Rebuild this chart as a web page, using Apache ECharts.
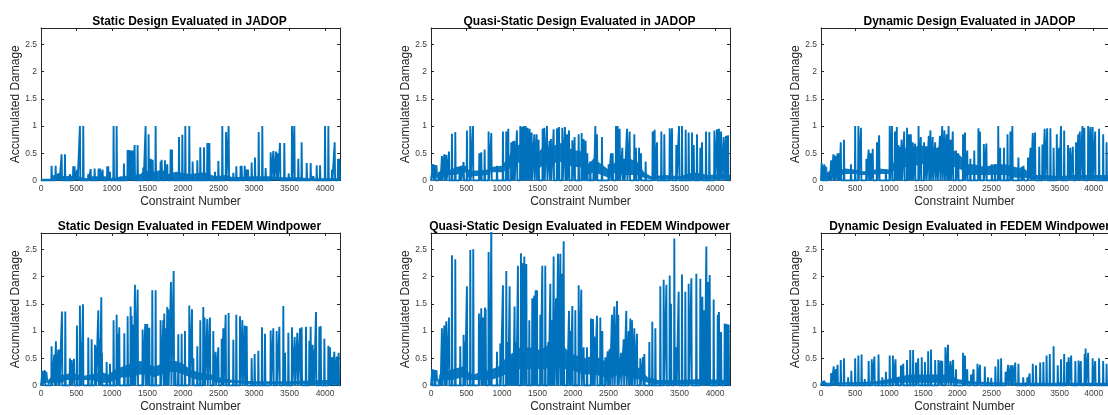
<!DOCTYPE html>
<html><head><meta charset="utf-8">
<script src="https://cdn.jsdelivr.net/npm/echarts@6/dist/echarts.min.js"></script>
<style>html,body{margin:0;padding:0;background:#fff}#c{width:1108px;height:415px}</style>
</head><body><div id="c"></div>
<script>
// ---- titles / axes ----
const titles = [
  'Static Design Evaluated in JADOP',
  'Quasi-Static Design Evaluated in JADOP',
  'Dynamic Design Evaluated in JADOP',
  'Static Design Evaluated in FEDEM Windpower',
  'Quasi-Static Design Evaluated in FEDEM Windpower',
  'Dynamic Design Evaluated in FEDEM Windpower'
];
const xName = 'Constraint Number';
const yName = 'Accumulated Damage';
const xMin = 0, xMax = 4210, xStep = 500;
const yMin = 0, yMax = 2.8, yStep = 0.5;

// ---- data: spikes [constraint, damage] and dense background envelope [constraint, low, high] ----
const staticJadopSpikes = [[150,0.27],[207,0.27],[244,0.13],[258,0.13],[291,0.48],[338,0.48],[408,0.12],[455,0.26],[474,0.26],[512,0.2],[549,1.0],[596,1.0],[667,0.12],[700,0.21],[756,0.22],[812,0.22],[831,0.22],[868,0.2],[934,0.26],[948,0.26],[972,0.16],[1023,1.0],[1066,1.0],[1120,0.07],[1169,0.31],[1221,0.56],[1244,0.56],[1272,0.55],[1286,0.55],[1319,0.65],[1361,0.65],[1441,0.24],[1474,1.0],[1516,0.85],[1545,0.4],[1573,0.38],[1615,1.0],[1685,0.35],[1700,0.38],[1746,0.37],[1779,0.3],[1826,0.57],[1845,0.57],[1944,0.8],[1991,0.84],[2033,1.0],[2089,1.0],[2136,0.35],[2202,0.37],[2244,0.61],[2296,0.61],[2343,0.69],[2371,0.69],[2451,0.16],[2498,0.36],[2554,1.0],[2606,0.89],[2643,1.0],[2709,0.14],[2751,0.26],[2812,0.27],[2826,0.27],[2869,0.27],[2897,0.2],[2915,0.2],[2967,0.33],[3014,0.42],[3066,0.89],[3117,1.0],[3164,0.23],[3235,0.52],[3272,0.54],[3310,0.53],[3329,0.5],[3366,0.69],[3427,0.69],[3488,0.13],[3535,1.0],[3568,1.0],[3624,0.4],[3671,0.7],[3742,0.32],[3798,0.32],[3836,0.08],[3883,0.28],[3930,0.28],[4000,1.0],[4047,1.0],[4099,0.2],[4136,0.7],[4183,0.4],[4202,0.4]];
const staticJadopBand = [[0,0,0.03],[140,0,0.03],[150,0,0.1],[350,0,0.08],[500,0,0.1],[560,0,0.06],[640,0,0.04],[700,0,0.08],[900,0,0.08],[1000,0,0.04],[1150,0,0.08],[1400,0,0.12],[1450,0,0.18],[1600,0,0.16],[1700,0,0.2],[1800,0,0.12],[1900,0,0.16],[2100,0,0.12],[2300,0,0.15],[2450,0,0.08],[2600,0,0.1],[2700,0,0.06],[3000,0,0.08],[3200,0,0.08],[3400,0,0.06],[3600,0,0.06],[3800,0,0.04],[4000,0,0.04],[4210,0,0.04]];

const quasiJadopSpikes = [[30,0.3],[60,0.28],[110,0.15],[130,0.17],[155,0.45],[188,0.48],[216,0.47],[254,0.53],[296,0.86],[343,0.89],[404,0.25],[423,0.27],[460,0.34],[507,0.92],[554,1.0],[592,1.0],[681,0.5],[709,0.52],[756,0.57],[812,0.9],[850,0.87],[930,0.27],[1014,0.9],[1061,0.9],[1089,0.95],[1131,0.7],[1155,0.72],[1174,0.73],[1211,0.92],[1258,1.0],[1282,0.98],[1305,1.0],[1333,1.0],[1361,0.97],[1390,0.95],[1418,0.88],[1455,0.85],[1488,0.85],[1516,0.75],[1573,0.95],[1596,0.97],[1634,1.0],[1671,0.73],[1690,0.76],[1728,0.94],[1775,0.96],[1803,0.98],[1850,0.97],[1887,0.98],[1915,0.85],[1944,0.92],[1991,0.74],[2023,0.8],[2080,0.85],[2122,0.87],[2150,0.76],[2178,0.73],[2202,0.5],[2244,0.35],[2291,0.4],[2315,1.0],[2338,0.85],[2408,0.8],[2502,0.3],[2535,0.5],[2559,0.5],[2606,1.0],[2629,1.0],[2657,0.95],[2695,0.6],[2723,0.4],[2761,0.95],[2798,0.9],[2864,0.85],[2887,0.6],[2930,0.6],[2958,0.5],[3023,0.35],[3122,0.9],[3150,0.93],[3183,0.7],[3244,0.9],[3286,0.85],[3362,0.96],[3394,0.96],[3455,0.65],[3493,1.0],[3535,1.0],[3587,0.93],[3629,0.88],[3676,0.88],[3700,0.65],[3746,0.85],[3793,0.6],[3817,0.7],[3873,0.9],[3920,0.89],[3991,0.92],[4028,0.94],[4056,0.95],[4085,0.9],[4122,0.8],[4155,0.82],[4183,0.83]];
const quasiJadopBand = [[0,0.05,0.3],[90,0.05,0.28],[100,0,0.08],[140,0.1,0.18],[300,0.1,0.2],[340,0.1,0.25],[500,0.15,0.27],[520,0.05,0.2],[600,0.08,0.18],[800,0.1,0.2],[840,0.15,0.25],[1000,0.15,0.27],[1100,0.2,0.45],[1150,0.3,0.6],[1300,0.35,0.7],[1450,0.3,0.7],[1500,0.2,0.5],[1600,0.3,0.65],[1700,0.3,0.6],[1800,0.35,0.7],[1900,0.3,0.65],[2000,0.25,0.55],[2100,0.25,0.55],[2200,0.1,0.3],[2300,0.15,0.4],[2400,0.1,0.3],[2500,0.05,0.2],[2600,0.15,0.35],[2700,0.1,0.35],[2800,0.1,0.4],[2900,0.1,0.35],[3000,0.05,0.15],[3100,0.02,0.08],[3300,0.02,0.1],[3500,0.02,0.08],[3700,0.02,0.15],[3900,0.02,0.1],[4100,0.02,0.12],[4210,0.02,0.1]];

const dynJadopSpikes = [[10,0.32],[50,0.3],[103,0.15],[127,0.17],[150,0.37],[183,0.48],[211,0.46],[244,0.5],[268,0.5],[291,0.7],[338,0.75],[441,0.3],[502,1.0],[549,1.0],[587,0.97],[667,0.4],[700,0.57],[728,0.5],[760,0.58],[822,0.7],[854,0.83],[953,0.2],[1009,1.0],[1042,1.0],[1085,0.9],[1113,0.98],[1136,0.65],[1160,0.62],[1183,0.75],[1221,0.9],[1263,0.97],[1291,0.85],[1319,0.85],[1347,0.7],[1380,0.68],[1432,1.0],[1465,0.8],[1512,0.7],[1545,0.63],[1582,0.82],[1606,0.92],[1639,0.8],[1676,0.7],[1709,0.58],[1746,0.82],[1779,1.0],[1812,0.92],[1845,0.85],[1873,1.0],[1901,0.75],[1934,0.9],[1981,0.55],[2014,0.5],[2085,0.85],[2113,0.88],[2146,0.55],[2192,0.4],[2249,0.55],[2310,0.96],[2333,0.9],[2390,0.67],[2427,0.68],[2507,0.3],[2554,0.3],[2601,1.0],[2629,0.6],[2685,0.6],[2737,0.85],[2779,0.9],[2808,1.0],[2897,0.42],[2944,0.25],[2972,0.27],[3038,0.42],[3075,0.6],[3108,0.87],[3141,0.88],[3202,0.62],[3249,0.66],[3282,0.95],[3319,0.96],[3366,0.96],[3413,0.6],[3460,0.85],[3493,0.6],[3521,1.0],[3568,0.92],[3624,0.65],[3657,0.6],[3695,0.62],[3742,0.7],[3775,0.85],[3798,0.9],[3836,1.0],[3864,0.97],[3920,1.0],[3953,0.98],[3986,0.98],[4023,0.9],[4080,0.95],[4140,0.85],[4190,0.7]];
const dynJadopBand = [[0,0.02,0.3],[90,0.02,0.25],[100,0,0.08],[130,0.1,0.17],[300,0.1,0.2],[350,0.12,0.22],[500,0.12,0.2],[600,0.1,0.17],[700,0.1,0.17],[850,0.12,0.22],[1000,0.12,0.2],[1100,0.2,0.4],[1200,0.25,0.6],[1350,0.25,0.6],[1450,0.3,0.65],[1600,0.3,0.6],[1700,0.25,0.6],[1800,0.3,0.65],[1950,0.25,0.55],[2050,0.2,0.45],[2150,0.1,0.3],[2250,0.1,0.3],[2400,0.1,0.25],[2550,0.1,0.3],[2700,0.1,0.3],[2850,0.05,0.25],[3000,0.05,0.2],[3100,0.02,0.1],[3300,0.02,0.1],[3500,0.02,0.08],[3700,0.02,0.1],[3900,0.02,0.1],[4210,0.02,0.1]];

const staticFedemSpikes = [[20,0.25],[55,0.28],[150,0.72],[188,0.57],[211,0.81],[244,0.66],[258,0.66],[296,1.36],[343,1.36],[408,0.5],[432,0.47],[465,0.49],[507,1.1],[549,1.47],[563,0.8],[592,1.49],[667,0.88],[714,0.85],[761,0.75],[770,0.7],[808,1.38],[826,0.85],[850,1.62],[859,0.6],[925,0.43],[972,0.4],[1023,1.2],[1066,1.3],[1080,0.95],[1103,1.07],[1174,0.96],[1221,1.27],[1263,1.45],[1277,1.28],[1300,1.12],[1324,1.85],[1362,1.76],[1432,1.03],[1469,1.13],[1498,1.13],[1526,1.06],[1568,1.75],[1615,1.75],[1685,1.2],[1723,1.2],[1737,1.32],[1760,1.05],[1779,1.44],[1793,1.4],[1831,1.9],[1869,2.1],[1892,0.4],[1934,0.94],[1981,0.95],[2028,1.0],[2089,1.47],[2127,1.4],[2146,0.5],[2202,0.72],[2244,1.2],[2286,1.44],[2305,1.25],[2343,1.22],[2380,1.25],[2427,1.0],[2460,0.62],[2498,0.7],[2545,0.86],[2568,1.05],[2601,1.3],[2643,1.33],[2709,0.84],[2751,1.3],[2803,1.27],[2836,1.2],[2869,1.1],[2897,1.09],[2967,0.5],[3009,0.58],[3061,0.64],[3113,1.07],[3155,0.95],[3235,1.01],[3272,1.05],[3319,1.0],[3357,1.08],[3413,1.46],[3437,0.6],[3484,0.97],[3535,1.07],[3573,0.89],[3610,0.97],[3648,1.05],[3671,1.07],[3732,1.08],[3779,0.82],[3798,1.08],[3826,0.75],[3840,0.65],[3873,1.35],[3920,1.08],[3939,1.09],[3991,0.86],[4047,0.73],[4070,0.7],[4099,0.52],[4131,0.62],[4164,0.53],[4192,0.6]];
const staticFedemBand = [[0,0.05,0.28],[90,0.05,0.25],[100,0,0.1],[140,0.05,0.15],[300,0.05,0.2],[350,0.1,0.2],[450,0.1,0.25],[500,0.1,0.2],[600,0.1,0.18],[700,0.1,0.2],[850,0.05,0.25],[950,0.05,0.2],[1050,0.1,0.3],[1150,0.15,0.35],[1250,0.15,0.4],[1400,0.2,0.45],[1500,0.2,0.4],[1600,0.15,0.35],[1700,0.2,0.4],[1800,0.25,0.45],[1900,0.25,0.45],[2000,0.2,0.4],[2100,0.15,0.3],[2200,0.1,0.25],[2400,0.1,0.2],[2500,0.05,0.15],[2700,0.05,0.1],[3000,0.02,0.08],[3500,0.02,0.08],[4000,0.02,0.1],[4210,0.02,0.1]];

const quasiFedemSpikes = [[20,0.3],[60,0.28],[131,0.2],[155,1.05],[188,1.1],[216,1.18],[254,1.25],[296,2.39],[343,2.32],[413,0.72],[460,0.93],[474,0.8],[507,1.82],[554,2.49],[596,2.5],[676,1.32],[709,1.42],[732,1.25],[761,1.43],[770,1.4],[812,2.45],[826,1.58],[850,2.9],[930,0.62],[977,0.77],[1014,1.84],[1061,2.1],[1085,0.8],[1108,1.82],[1131,0.52],[1155,0.5],[1178,1.45],[1200,0.8],[1225,2.2],[1268,2.43],[1286,2.25],[1315,2.37],[1343,2.23],[1385,1.2],[1427,1.6],[1455,1.65],[1474,1.75],[1493,1.75],[1540,1.3],[1568,2.2],[1610,2.2],[1653,0.8],[1681,1.87],[1709,1.2],[1728,2.37],[1761,1.6],[1789,2.42],[1822,2.42],[1845,2.05],[1869,2.65],[1915,0.5],[1944,1.37],[1962,1.0],[1991,1.46],[2033,1.38],[2080,1.84],[2117,1.76],[2150,0.7],[2197,0.7],[2254,1.23],[2282,1.22],[2300,0.9],[2338,1.28],[2385,1.25],[2413,1.0],[2455,0.52],[2488,0.63],[2516,0.67],[2549,1.3],[2582,1.45],[2620,1.55],[2638,1.3],[2676,0.6],[2714,0.85],[2751,1.37],[2784,1.0],[2808,1.23],[2831,1.2],[2864,1.05],[2901,0.95],[2948,0.5],[2986,0.52],[3005,0.58],[3075,0.8],[3117,1.17],[3160,1.05],[3230,1.82],[3277,1.94],[3315,1.85],[3362,2.02],[3380,1.5],[3427,2.7],[3455,0.7],[3488,1.72],[3535,2.04],[3582,1.72],[3629,1.87],[3667,1.97],[3737,2.05],[3793,1.96],[3822,1.63],[3850,1.38],[3878,2.55],[3897,1.9],[3925,2.03],[3981,1.58],[4038,1.3],[4056,1.35],[4085,0.98],[4136,1.14],[4164,1.13],[4192,1.12]];
const quasiFedemBand = [[0,0.1,0.3],[90,0.08,0.28],[100,0,0.1],[140,0.1,0.2],[300,0.1,0.3],[450,0.15,0.35],[520,0.1,0.25],[600,0.1,0.2],[700,0.1,0.25],[850,0.1,0.3],[950,0.15,0.35],[1050,0.2,0.5],[1150,0.25,0.6],[1250,0.3,0.7],[1400,0.3,0.7],[1500,0.3,0.65],[1600,0.3,0.7],[1700,0.35,0.8],[1850,0.3,0.75],[1950,0.3,0.6],[2050,0.25,0.55],[2150,0.2,0.5],[2300,0.2,0.55],[2450,0.15,0.45],[2550,0.15,0.5],[2650,0.2,0.5],[2800,0.15,0.45],[2950,0.1,0.3],[3050,0.05,0.15],[3200,0.02,0.1],[3500,0.02,0.1],[3800,0.02,0.12],[4210,0.02,0.1]];

const dynFedemSpikes = [[15,0.08],[50,0.09],[150,0.23],[188,0.35],[221,0.3],[244,0.38],[291,0.47],[338,0.5],[399,0.15],[446,0.27],[502,0.5],[549,0.55],[596,0.57],[643,0.12],[700,0.45],[746,0.48],[784,0.53],[845,0.57],[901,0.15],[953,0.25],[1009,0.55],[1056,0.55],[1094,0.48],[1127,0.15],[1174,0.37],[1207,0.4],[1263,0.47],[1310,0.65],[1352,0.65],[1394,0.42],[1427,0.5],[1479,0.52],[1526,0.43],[1573,0.63],[1615,0.66],[1676,0.47],[1723,0.47],[1756,0.46],[1779,0.45],[1826,0.7],[1864,0.75],[1901,0.45],[1939,0.47],[1981,0.3],[2085,0.6],[2113,0.55],[2146,0.3],[2202,0.2],[2239,0.3],[2296,0.4],[2333,0.38],[2404,0.35],[2451,0.15],[2498,0.14],[2559,0.35],[2601,0.48],[2643,0.5],[2709,0.25],[2746,0.38],[2784,0.37],[2812,0.37],[2850,0.42],[2897,0.4],[2967,0.15],[3028,0.15],[3061,0.22],[3108,0.4],[3155,0.37],[3216,0.42],[3263,0.43],[3310,0.55],[3357,0.58],[3413,0.72],[3474,0.37],[3521,0.48],[3568,0.58],[3610,0.43],[3634,0.52],[3671,0.55],[3732,0.45],[3779,0.46],[3812,0.45],[3869,0.58],[3883,0.68],[3920,0.6],[3986,0.5],[4023,0.45],[4080,0.5],[4140,0.45],[4190,0.4]];
const dynFedemBand = [[0,0,0.08],[100,0,0.05],[300,0.02,0.06],[500,0.02,0.06],[800,0.02,0.08],[1000,0.03,0.12],[1100,0.05,0.15],[1300,0.05,0.2],[1500,0.05,0.2],[1700,0.05,0.2],[1900,0.05,0.2],[2000,0.03,0.12],[2200,0.02,0.08],[2500,0.02,0.06],[3000,0.01,0.05],[3500,0.01,0.05],[4210,0.01,0.05]];

const panelSpikes = [staticJadopSpikes, quasiJadopSpikes, dynJadopSpikes, staticFedemSpikes, quasiFedemSpikes, dynFedemSpikes];
const panelBands = [staticJadopBand, quasiJadopBand, dynJadopBand, staticFedemBand, quasiFedemBand, dynFedemBand];

// ---- styling / layout ----
const COLOR = '#0072BD';
const FONT = '"Liberation Sans", Arial, Helvetica, sans-serif';
const AX = '#262626';
const colLeft = [41, 431, 821];
const rowTop = [28, 233];
const PW = 299, PH = 152.5;

function spikeLine(spikes) {
  const pts = [[xMin, 0]];
  spikes.slice().sort((a, b) => a[0] - b[0]).forEach(([x, y]) => {
    pts.push([x - 5, 0], [x - 1, y], [x + 1, y], [x + 5, 0]);
  });
  pts.push([xMax, 0]);
  return pts;
}
const plain = v => String(v);

const grid = [], xAxis = [], yAxis = [], series = [], title = [];
for (let i = 0; i < 6; i++) {
  const col = i % 3, row = Math.floor(i / 3);
  const left = colLeft[col], top = rowTop[row];
  grid.push({left: left, top: top, width: PW, height: PH});
  const tick = {show: true, inside: true, length: 3, lineStyle: {color: AX, width: 1}};
  const line = {show: true, onZero: false, lineStyle: {color: AX, width: 1}};
  xAxis.push({
    type: 'value', gridIndex: i, min: xMin, max: xMax, interval: xStep, position: 'bottom',
    axisLine: line, axisTick: tick, splitLine: {show: false},
    axisLabel: {fontSize: 8.5, color: '#404040', margin: 4, showMaxLabel: false, fontFamily: FONT, formatter: plain},
    name: xName, nameLocation: 'middle', nameGap: 15,
    nameTextStyle: {fontSize: 12, color: AX, fontFamily: FONT}
  });
  yAxis.push({
    type: 'value', gridIndex: i, min: yMin, max: yMax, interval: yStep, position: 'left',
    axisLine: line, axisTick: tick, splitLine: {show: false},
    axisLabel: {fontSize: 8.5, color: '#404040', margin: 4, showMaxLabel: false, fontFamily: FONT, formatter: plain},
    name: yName, nameLocation: 'middle', nameGap: 19,
    nameTextStyle: {fontSize: 12, color: AX, fontFamily: FONT}
  });
  title.push({
    text: titles[i], left: left + PW / 2 - 6, top: row === 0 ? 11 : 216, textAlign: 'center',
    textStyle: {fontSize: 12, fontWeight: 'bold', color: '#000', fontFamily: FONT}
  });
}
// top and right box axes
for (let i = 0; i < 6; i++) {
  const tick = {show: true, inside: true, length: 3, lineStyle: {color: AX, width: 1}};
  const line = {show: true, onZero: false, lineStyle: {color: AX, width: 1}};
  xAxis.push({type: 'value', gridIndex: i, min: xMin, max: xMax, interval: xStep, position: 'top',
    axisLine: line, axisTick: tick, axisLabel: {show: false}, splitLine: {show: false}});
  yAxis.push({type: 'value', gridIndex: i, min: yMin, max: yMax, interval: yStep, position: 'right',
    axisLine: line, axisTick: tick, axisLabel: {show: false}, splitLine: {show: false}});
}
for (let i = 0; i < 6; i++) {
  const band = panelBands[i];
  // dense background: blue fill up to the upper envelope, then cleared below the lower envelope
  series.push({
    type: 'line', xAxisIndex: i, yAxisIndex: i, symbol: 'none', silent: true, z: 2,
    lineStyle: {width: 0, opacity: 0}, areaStyle: {color: COLOR, opacity: 0.95, origin: 'start'},
    data: band.map(b => [b[0], b[2]])
  });
  series.push({
    type: 'line', xAxisIndex: i, yAxisIndex: i, symbol: 'none', silent: true, z: 3,
    lineStyle: {width: 0, opacity: 0}, areaStyle: {color: '#ffffff', opacity: 1, origin: 'start'},
    data: band.map(b => [b[0], b[1]])
  });
  series.push({
    type: 'line', xAxisIndex: i, yAxisIndex: i, symbol: 'none', silent: true, z: 4,
    lineStyle: {width: 1.9, color: COLOR}, data: spikeLine(panelSpikes[i])
  });
}

const chart = echarts.init(document.getElementById('c'), null, {renderer: 'canvas'});
chart.setOption({animation: false, backgroundColor: '#fff', title, grid, xAxis, yAxis, series});
</script>
</body></html>
